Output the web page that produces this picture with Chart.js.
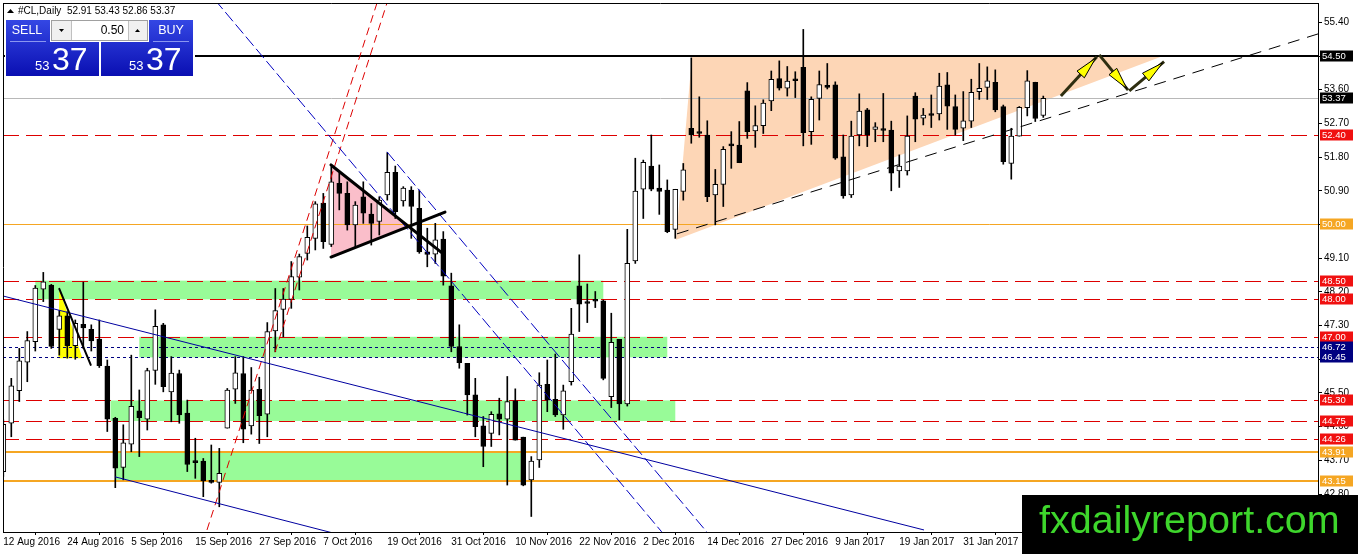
<!DOCTYPE html>
<html>
<head>
<meta charset="utf-8">
<script src="https://cdn.jsdelivr.net/npm/chart.js@4.4.1/dist/chart.umd.min.js"></script>
<style>
  html, body { margin: 0; padding: 0; background: #fff; }
  #wrap { width: 1358px; height: 554px; position: relative; }
</style>
</head>
<body>
<div id="wrap"><canvas id="c" width="1358" height="554"></canvas></div>
<script>
// #CL daily candles, one bar per trading day starting 12 Aug 2016
const xTickLabels = ['12 Aug 2016', '24 Aug 2016', '5 Sep 2016', '15 Sep 2016', '27 Sep 2016', '7 Oct 2016',
  '19 Oct 2016', '31 Oct 2016', '10 Nov 2016', '22 Nov 2016', '2 Dec 2016', '14 Dec 2016', '27 Dec 2016',
  '9 Jan 2017', '19 Jan 2017', '31 Jan 2017'];
const yTicks = [55.40, 54.50, 53.60, 52.70, 51.80, 50.90, 50.00, 49.10, 48.20, 47.30, 46.40, 45.50, 44.60, 43.70, 42.80];

const opens = [43.40, 44.69, 45.56, 46.32, 46.87, 48.27, 48.38, 47.20, 47.56, 46.76,
  47.33, 47.20, 46.94, 46.22, 44.82, 43.51, 44.13, 45.02, 44.80, 46.10,
  47.32, 45.53, 46.02, 44.96, 43.68, 43.68, 43.15, 43.11, 44.56, 45.60,
  46.02, 44.62, 45.60, 44.93, 47.16, 47.73, 48.00, 48.59, 49.23, 49.63,
  50.57, 49.47, 51.10, 50.83, 49.99, 50.74, 50.28, 50.08, 50.79, 51.39,
  50.63, 50.92, 50.43, 49.27, 49.21, 49.61, 48.36, 46.74, 46.29, 45.45,
  44.62, 44.42, 44.94, 44.80, 45.29, 44.32, 43.18, 43.71, 45.73, 45.33,
  44.91, 45.80, 48.36, 47.94, 47.98, 47.96, 45.40, 46.93, 45.21, 49.03,
  50.94, 51.56, 50.97, 50.92, 49.87, 50.88, 52.57, 52.48, 52.39, 50.79,
  51.07, 52.15, 52.12, 53.57, 52.50, 52.64, 53.30, 53.90, 53.64, 53.88,
  54.20, 52.48, 53.37, 53.72, 53.73, 51.81, 50.79, 52.39, 53.06, 52.54,
  52.54, 52.52, 51.43, 51.43, 53.43, 52.84, 52.95, 52.95, 53.73, 53.15,
  52.57, 52.76, 53.55, 53.66, 53.80, 53.15, 51.63, 52.36, 53.12, 53.80, 52.91];
const highs = [44.78, 45.89, 46.69, 47.14, 48.37, 48.72, 48.40, 47.70, 47.67, 47.45,
  48.46, 47.32, 47.45, 46.38, 44.85, 44.65, 46.51, 45.58, 46.16, 47.72,
  47.36, 46.47, 46.11, 45.31, 44.29, 43.75, 44.11, 44.02, 45.62, 46.47,
  46.47, 46.18, 45.92, 47.38, 48.29, 48.29, 49.01, 49.21, 49.96, 50.61,
  50.83, 51.53, 51.37, 51.14, 50.61, 51.14, 50.56, 50.74, 51.92, 51.56,
  51.01, 51.01, 50.92, 49.90, 50.03, 49.81, 48.70, 47.32, 46.29, 45.89,
  44.87, 45.00, 45.36, 45.94, 45.61, 44.32, 43.80, 46.04, 46.38, 46.54,
  45.71, 47.76, 49.19, 48.41, 48.21, 47.98, 47.63, 46.93, 49.87, 51.77,
  51.72, 52.39, 51.59, 51.19, 50.94, 51.63, 54.45, 53.41, 52.77, 51.47,
  52.08, 52.48, 52.75, 53.79, 53.17, 53.33, 54.10, 54.37, 54.22, 54.08,
  55.21, 53.41, 54.10, 54.30, 53.81, 52.39, 52.76, 53.49, 53.10, 52.72,
  53.50, 52.76, 51.86, 52.90, 53.52, 53.10, 53.46, 54.04, 54.06, 53.46,
  53.55, 53.88, 54.30, 54.21, 54.13, 53.19, 52.57, 53.15, 54.11, 53.80, 53.43];
const lows = [43.27, 44.33, 45.27, 45.80, 46.62, 47.94, 46.69, 46.51, 46.43, 46.40,
  46.69, 46.62, 46.18, 44.47, 42.97, 43.18, 43.93, 43.80, 44.51, 45.73,
  45.53, 44.73, 44.69, 43.40, 43.22, 42.73, 43.09, 42.46, 44.56, 45.22,
  44.17, 44.40, 44.15, 44.33, 46.60, 47.00, 47.76, 48.25, 49.05, 49.32,
  49.36, 49.41, 50.39, 49.85, 49.41, 50.03, 49.45, 49.72, 50.65, 50.16,
  50.49, 49.63, 49.23, 48.87, 48.96, 48.38, 46.60, 46.16, 44.91, 44.33,
  43.53, 44.07, 44.38, 43.04, 44.24, 43.02, 42.20, 43.51, 45.00, 44.87,
  44.53, 45.71, 47.14, 47.38, 47.78, 45.85, 45.11, 44.78, 45.15, 48.96,
  50.16, 50.90, 50.27, 49.78, 49.63, 50.65, 52.17, 52.33, 50.61, 49.99,
  50.48, 51.50, 51.65, 52.30, 52.06, 52.43, 53.04, 53.59, 53.43, 53.39,
  52.10, 52.14, 52.79, 53.62, 51.74, 50.70, 50.72, 52.10, 52.08, 52.21,
  52.21, 50.90, 50.99, 51.32, 52.21, 52.66, 52.59, 52.79, 52.54, 52.39,
  52.24, 52.59, 53.34, 53.34, 53.01, 51.61, 51.21, 52.36, 52.90, 52.75, 52.86];
const closes = [44.66, 45.69, 46.36, 46.90, 48.30, 48.47, 46.74, 47.56, 46.76, 47.36,
  47.24, 46.89, 46.23, 44.80, 43.49, 44.17, 45.14, 44.84, 46.10, 47.28,
  45.67, 46.03, 44.91, 43.59, 43.64, 43.15, 43.11, 43.35, 45.58, 46.04,
  44.53, 45.58, 44.89, 47.14, 47.70, 48.01, 48.61, 49.14, 49.66, 50.55,
  49.54, 51.14, 50.83, 49.99, 50.52, 50.30, 50.03, 50.65, 51.39, 50.34,
  50.97, 50.48, 49.27, 49.20, 49.59, 48.62, 46.74, 46.31, 45.45, 44.60,
  44.07, 44.93, 44.80, 45.27, 44.24, 43.04, 43.68, 45.71, 45.31, 44.91,
  45.56, 47.07, 47.87, 47.89, 47.95, 45.89, 46.85, 45.21, 48.96, 50.89,
  51.66, 50.94, 50.88, 49.81, 50.94, 51.46, 52.39, 52.43, 50.74, 51.07,
  52.01, 52.10, 51.65, 52.48, 52.64, 53.24, 53.88, 53.64, 53.83, 53.84,
  52.45, 53.34, 53.74, 53.66, 51.77, 50.76, 52.36, 53.03, 52.39, 52.61,
  52.51, 51.37, 51.56, 52.36, 52.81, 52.92, 52.91, 53.70, 53.16, 52.54,
  52.77, 53.53, 53.64, 53.84, 53.06, 51.68, 52.36, 53.13, 53.84, 52.83, 53.37];

// drawn objects, in bar index / price units
const resistanceLevel = 54.50;
const redLevels = [52.40, 48.50, 48.00, 47.00, 45.30, 44.75, 44.26];
const blueLevels = [46.72, 46.45];
const orangeLevels = [50.00];
const orangeThickLevels = [43.91, 43.15];
const greenZones = [[4, 75, 48.00, 48.50], [17, 83, 46.45, 47.00], [13.4, 84, 44.75, 45.30], [14, 65, 43.15, 43.91]];
const yellowWedge = [[7.0, 48.28], [6.9, 46.43], [9.9, 46.43]];
const wedgeLine = [7.0, 48.28, 10.93, 46.25];
const pennant = [[40.96, 51.59], [40.96, 49.13], [50.64, 49.95]];
const pennantLines = [[40.96, 51.59, 54.84, 49.24], [40.96, 49.13, 55.21, 50.33]];
const redChannel = [[25.46, 41.84, 46.84, 56.0], [33.96, 46.59, 48.09, 56.0]];
const blueDashed = [[26.46, 56.0, 82.3, 41.79], [47.96, 51.94, 87.93, 41.79]];
const blueSolid = [[-0.04, 48.09, 115.09, 41.84], [13.96, 43.26, 41.2, 41.76]];
const triangleZone = [[86.09, 54.50], [84.09, 49.59], [144.96, 54.50]];
const supportLine = [84.21, 49.75, 164.34, 55.09];
const arrows = [[132.2, 53.43, 136.7, 54.48], [137.0, 54.53, 140.6, 53.59], [140.75, 53.57, 145.1, 54.35]];

const FONT = "'Liberation Sans', Arial, sans-serif";

const wicks = lows.map((l, i) => ({ x: i, y: [l, highs[i]] }));
const bodies = opens.map((o, i) => ({ x: i, y: [o, closes[i]] }));
const bodyColors = opens.map((o, i) => closes[i] >= o ? '#ffffff' : '#000000');

function line(ctx, x1, y1, x2, y2) {
  ctx.beginPath(); ctx.moveTo(x1, y1); ctx.lineTo(x2, y2); ctx.stroke();
}

const overlay = {
  id: 'overlay',
  beforeDatasetsDraw(chart) {
    const { ctx, chartArea: a, scales: { x, y } } = chart;
    const px = v => x.getPixelForValue(v), py = v => y.getPixelForValue(v);
    const poly = (pts, fill) => {
      ctx.beginPath();
      pts.forEach((p, k) => k ? ctx.lineTo(px(p[0]), py(p[1])) : ctx.moveTo(px(p[0]), py(p[1])));
      ctx.closePath(); ctx.fillStyle = fill; ctx.fill();
    };
    ctx.save();
    ctx.beginPath(); ctx.rect(a.left, a.top, a.right - a.left, a.bottom - a.top); ctx.clip();

    greenZones.forEach(z => {
      ctx.fillStyle = '#98fb98';
      ctx.fillRect(px(z[0]), py(z[3]), px(z[1]) - px(z[0]), py(z[2]) - py(z[3]));
    });
    poly(triangleZone, 'rgb(253,214,182)');
    poly(pennant, 'rgb(250,190,202)');
    poly(yellowWedge, '#ffff00');

    const hl = (p, color, w, dash) => {
      ctx.strokeStyle = color; ctx.lineWidth = w; ctx.setLineDash(dash);
      const yy = Math.round(py(p)) + (w % 2 ? 0.5 : 0);
      line(ctx, a.left, yy, a.right, yy);
    };
    redLevels.forEach(p => hl(p, '#dd0000', 1, [16, 7]));
    blueLevels.forEach(p => hl(p, '#000080', 1, [3, 3]));
    orangeLevels.forEach(p => hl(p, '#f5a623', 1, []));
    orangeThickLevels.forEach(p => hl(p, '#f5a623', 2, []));
    hl(closes[closes.length - 1], '#b8b8b8', 1, []);
    hl(resistanceLevel, '#000000', 2, []);
    ctx.restore();
  },
  afterDatasetsDraw(chart) {
    const { ctx, chartArea: a, scales: { x, y } } = chart;
    const px = v => x.getPixelForValue(v), py = v => y.getPixelForValue(v);
    const seg = (s, color, w, dash) => {
      ctx.strokeStyle = color; ctx.lineWidth = w; ctx.setLineDash(dash);
      line(ctx, px(s[0]), py(s[1]), px(s[2]), py(s[3]));
    };
    ctx.save();
    ctx.beginPath(); ctx.rect(a.left, a.top, a.right - a.left, a.bottom - a.top); ctx.clip();
    redChannel.forEach(s => seg(s, '#dd0000', 1, [8, 5]));
    blueDashed.forEach(s => seg(s, '#0000c0', 1, [12, 4]));
    blueSolid.forEach(s => seg(s, '#0000a0', 1, []));
    seg(supportLine, '#000000', 1, [12, 8]);
    ctx.lineCap = 'round';
    pennantLines.forEach(s => seg(s, '#000000', 3, []));
    seg(wedgeLine, '#000000', 2, []);
    ctx.lineCap = 'butt';

    arrows.forEach(s => {
      const x1 = px(s[0]), y1 = py(s[1]), x2 = px(s[2]), y2 = py(s[3]);
      ctx.setLineDash([]);
      ctx.strokeStyle = '#2e2e10'; ctx.lineWidth = 3;
      line(ctx, x1, y1, x2, y2);
      const len = Math.hypot(x2 - x1, y2 - y1), ux = (x2 - x1) / len, uy = (y2 - y1) / len;
      const hx = x2 - ux * 24, hy = y2 - uy * 24;
      ctx.beginPath();
      ctx.moveTo(x2 - ux * 2, y2 - uy * 2);
      ctx.lineTo(hx - uy * 5, hy + ux * 5);
      ctx.lineTo(hx + uy * 5, hy - ux * 5);
      ctx.closePath();
      ctx.fillStyle = '#ffff00'; ctx.fill();
      ctx.strokeStyle = '#000'; ctx.lineWidth = 1; ctx.stroke();
    });
    ctx.restore();
  },
  afterDraw(chart) {
    const { ctx, chartArea: a, scales: { y } } = chart;
    ctx.save();
    ctx.strokeStyle = '#000'; ctx.lineWidth = 1;
    line(ctx, a.left + 0.5, a.top, a.left + 0.5, a.bottom);
    line(ctx, a.left, a.top + 0.5, a.right, a.top + 0.5);

    // price labels on the axis
    const tag = (p, bg) => {
      const yy = Math.round(y.getPixelForValue(p));
      ctx.fillStyle = bg; ctx.fillRect(a.right + 2, yy - 5.5, 33, 11);
      ctx.fillStyle = '#fff'; ctx.font = '9.5px ' + FONT; ctx.textBaseline = 'middle'; ctx.textAlign = 'left';
      ctx.fillText(p.toFixed(2), a.right + 4, yy + 0.5);
    };
    tag(resistanceLevel, '#000');
    tag(closes[closes.length - 1], '#000');
    redLevels.forEach(p => tag(p, '#f01010'));
    orangeLevels.concat(orangeThickLevels).forEach(p => tag(p, '#f5a623'));
    blueLevels.forEach(p => tag(p, '#000080'));

    // header
    ctx.fillStyle = '#000';
    ctx.beginPath(); ctx.moveTo(7, 13); ctx.lineTo(10.5, 9); ctx.lineTo(14, 13); ctx.closePath(); ctx.fill();
    ctx.font = '10px ' + FONT; ctx.textBaseline = 'middle'; ctx.textAlign = 'left';
    ctx.fillText('#CL,Daily  ' + [opens, highs, lows, closes].map(s => s[s.length - 1].toFixed(2)).join(' '), 18, 11);

    // one-click trading panel
    ctx.fillStyle = '#fff'; ctx.fillRect(5, 18, 190, 60);
    const grad = ctx.createLinearGradient(0, 20, 0, 76);
    grad.addColorStop(0, '#3447e4'); grad.addColorStop(1, '#0a0fb2');
    ctx.fillStyle = grad;
    ctx.fillRect(6, 20, 44, 22); ctx.fillRect(6, 42, 93, 34);
    ctx.fillRect(149, 20, 44, 22); ctx.fillRect(101, 42, 92, 34);
    ctx.strokeStyle = '#8a96f0'; ctx.lineWidth = 1;
    line(ctx, 10, 41.5, 46, 41.5); line(ctx, 153, 41.5, 189, 41.5);
    ctx.fillStyle = '#f0f0f0'; ctx.fillRect(51, 20, 97, 21);
    ctx.strokeStyle = '#a0a0a0'; ctx.strokeRect(51.5, 20.5, 96, 20);
    ctx.fillStyle = '#fff'; ctx.fillRect(72, 21, 56, 19);
    ctx.strokeStyle = '#c0c0c0'; line(ctx, 71.5, 21, 71.5, 40); line(ctx, 128.5, 21, 128.5, 40);
    ctx.fillStyle = '#000';
    ctx.beginPath(); ctx.moveTo(59, 29); ctx.lineTo(64, 29); ctx.lineTo(61.5, 32); ctx.closePath(); ctx.fill();
    ctx.beginPath(); ctx.moveTo(135, 32); ctx.lineTo(140, 32); ctx.lineTo(137.5, 29); ctx.closePath(); ctx.fill();
    ctx.font = '12px ' + FONT; ctx.textAlign = 'right'; ctx.fillText('0.50', 124, 31);
    ctx.fillStyle = '#fff'; ctx.textAlign = 'center';
    ctx.font = '12.5px ' + FONT;
    ctx.fillText('SELL', 27, 31); ctx.fillText('BUY', 171, 31);
    ctx.textBaseline = 'alphabetic'; ctx.textAlign = 'left';
    ctx.font = '13px ' + FONT; ctx.fillText('53', 35, 70); ctx.fillText('53', 129, 70);
    ctx.font = '32px ' + FONT; ctx.fillText('37', 52, 70); ctx.fillText('37', 146, 70);

    // watermark
    ctx.fillStyle = '#000'; ctx.fillRect(1022, 495, 336, 59);
    ctx.fillStyle = '#3ed62c'; ctx.font = '39.5px ' + FONT; ctx.textBaseline = 'alphabetic';
    ctx.fillText('fxdailyreport.com', 1039, 533);
    ctx.restore();
  }
};

new Chart(document.getElementById('c').getContext('2d'), {
  type: 'bar',
  data: {
    datasets: [
      { label: 'body', data: bodies, backgroundColor: bodyColors, borderColor: '#000', borderWidth: 1,
        borderSkipped: false, barThickness: 5, minBarLength: 2, grouped: false, order: 0 },
      { label: 'wick', data: wicks, backgroundColor: '#000', borderWidth: 0,
        barThickness: 1, grouped: false, order: 1 }
    ]
  },
  options: {
    animation: false, responsive: false, devicePixelRatio: 1,
    layout: { padding: { left: 3, top: 3, right: 0, bottom: 0 } },
    plugins: { legend: { display: false }, tooltip: { enabled: false } },
    scales: {
      x: {
        type: 'linear', min: -0.0375, max: 164.34, offset: false,
        grid: { drawOnChartArea: false, tickLength: 3, color: '#000' },
        border: { color: '#000' },
        ticks: { autoSkip: false, maxRotation: 0, align: 'start', padding: 1, color: '#000',
          font: { family: FONT, size: 10 }, callback: (v, k) => xTickLabels[k] },
        afterBuildTicks: s => { s.ticks = xTickLabels.map((t, k) => ({ value: k * 8 })); },
        afterFit: s => { s.height = 22; s.paddingLeft = 0; s.paddingRight = 0; }
      },
      y: {
        position: 'right', min: 41.786, max: 55.916,
        grid: { drawOnChartArea: false, tickLength: 4, color: '#000' },
        border: { color: '#000' },
        ticks: { padding: 2, color: '#000', font: { family: FONT, size: 10 }, callback: v => v.toFixed(2) },
        afterBuildTicks: s => { s.ticks = yTicks.map(v => ({ value: v })); },
        afterFit: s => { s.width = 40; s.paddingTop = 0; s.paddingBottom = 0; }
      }
    }
  },
  plugins: [overlay]
});
</script>
</body>
</html>
